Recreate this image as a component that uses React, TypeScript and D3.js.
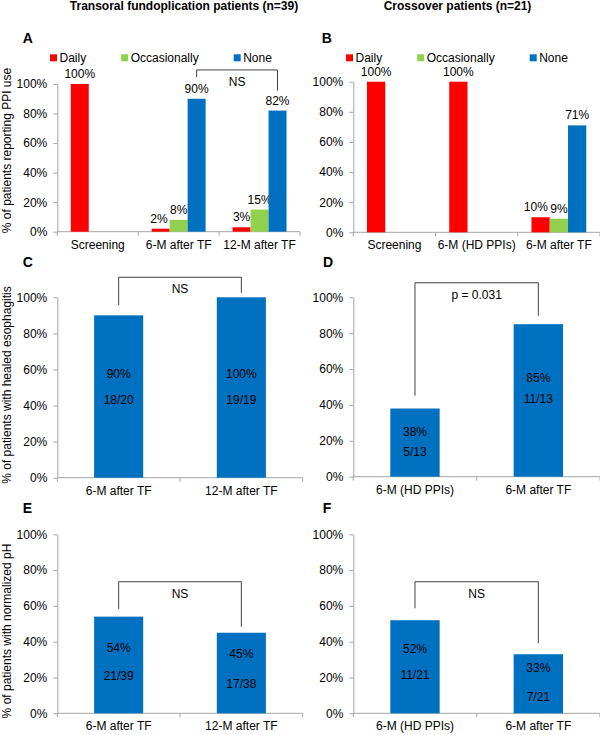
import * as d3 from "d3";
import { useEffect, useRef } from "react";

const W = 600;
const H = 735;
const FONT = "'Liberation Sans', Arial, Helvetica, sans-serif";
const AXIS = "#a6a6a6";
const INK = "#000";

// PPI use (panels A and B)
const ppiSeries = ["Daily", "Occasionally", "None"];
const ppiColors = ["#ff0000", "#92d050", "#0070c0"];
const tfCategories = ["Screening", "6-M after TF", "12-M after TF"];
const tfDaily = [100, 2, 3];
const tfOccasionally = [0, 8, 15];
const tfNone = [0, 90, 82];
const coCategories = ["Screening", "6-M (HD PPIs)", "6-M after TF"];
const coDaily = [100, 100, 10];
const coOccasionally = [0, 0, 9];
const coNone = [0, 0, 71];

// healed esophagitis (C, D)
const healTfCategories = ["6-M after TF", "12-M after TF"];
const healTfValues = [90, 100];
const healTfCounts = ["18/20", "19/19"];
const healCoCategories = ["6-M (HD PPIs)", "6-M after TF"];
const healCoValues = [38, 85];
const healCoCounts = ["5/13", "11/13"];

// normalized pH (E, F)
const phTfValues = [54, 45];
const phTfCounts = ["21/39", "17/38"];
const phCoValues = [52, 33];
const phCoCounts = ["11/21", "7/21"];

const yTicks = [0, 20, 40, 60, 80, 100];

type Frame = { left: number; right: number; top: number; bottom: number };
type Bracket = { label: string; top: number; leftFoot: number; rightFoot: number };
type Sel = d3.Selection<SVGSVGElement, unknown, null, undefined>;

// annotation levels, in % units of each panel's y scale
const bracketA: Bracket = { label: "NS", top: 109.5, leftFoot: 104.7, rightFoot: 95.5 };
const bracketC: Bracket = { label: "NS", top: 111.1, leftFoot: 95.7, rightFoot: 102.5 };
const bracketD: Bracket = { label: "p = 0.031", top: 108.1, leftFoot: 45.2, rightFoot: 89.7 };
const bracketE: Bracket = { label: "NS", top: 73.5, leftFoot: 58.3, rightFoot: 48.4 };
const bracketF: Bracket = { label: "NS", top: 73.5, leftFoot: 58.7, rightFoot: 39.1 };

// where the in-bar labels sit (% units)
const pctAtC = [57.5, 57.5];
const cntAtC = [43.1, 43.1];
const pctAtD = [25.1, 54.9];
const cntAtD = [14.0, 43.1];
const pctAtE = [36.7, 33.2];
const cntAtE = [20.8, 16.2];
const pctAtF = [35.9, 25.1];
const cntAtF = [21.3, 9.3];

const frameA: Frame = { left: 57.3, right: 300, top: 84, bottom: 231.7 };
const frameB: Frame = { left: 353.3, right: 600, top: 81.7, bottom: 232.3 };
const frameC: Frame = { left: 57.3, right: 302.7, top: 297.3, bottom: 477.7 };
const frameD: Frame = { left: 353.3, right: 600, top: 297.3, bottom: 476.7 };
const frameE: Frame = { left: 57.3, right: 302.7, top: 534.3, bottom: 713.3 };
const frameF: Frame = { left: 353.3, right: 600, top: 534.3, bottom: 713.3 };

function txt(svg: Sel, x: number, y: number, s: string, anchor = "middle", size = 12, weight = 400) {
  return svg
    .append("text")
    .attr("x", x)
    .attr("y", y)
    .attr("text-anchor", anchor)
    .attr("font-family", FONT)
    .attr("font-size", size)
    .attr("font-weight", weight)
    .attr("fill", INK)
    .text(s);
}

function drawAxes(svg: Sel, f: Frame, x: d3.ScaleBand<string>, y: d3.ScaleLinear<number, number>) {
  svg
    .append("g")
    .attr("transform", `translate(${f.left},0)`)
    .call(
      d3
        .axisLeft(y)
        .tickValues(yTicks)
        .tickSize(4)
        .tickSizeOuter(0)
        .tickPadding(6)
        .tickFormat((d) => `${d}%`)
    )
    .call((g) => g.selectAll("path,line").attr("stroke", AXIS))
    .call((g) =>
      g.selectAll("text").attr("fill", INK).attr("font-size", 12).attr("font-family", FONT)
    );

  const y0 = y(0);
  svg
    .append("line")
    .attr("x1", f.left)
    .attr("x2", f.right)
    .attr("y1", y0)
    .attr("y2", y0)
    .attr("stroke", AXIS);

  const edges = [...x.domain().map((c) => x(c) ?? 0), x.range()[1]];
  svg
    .append("g")
    .selectAll("line")
    .data(edges)
    .enter()
    .append("line")
    .attr("x1", (d) => d)
    .attr("x2", (d) => d)
    .attr("y1", y0)
    .attr("y2", y0 + 4)
    .attr("stroke", AXIS);

  x.domain().forEach((c) => {
    txt(svg, (x(c) ?? 0) + x.bandwidth() / 2, y0 + 17, c);
  });
}

function drawBracket(svg: Sel, x1: number, x2: number, y: d3.ScaleLinear<number, number>, b: Bracket) {
  svg
    .append("path")
    .attr("d", `M${x1},${y(b.leftFoot)}V${y(b.top)}H${x2}V${y(b.rightFoot)}`)
    .attr("fill", "none")
    .attr("stroke", "#404040")
    .attr("stroke-width", 1);
  txt(svg, (x1 + x2) / 2, y(b.top) + 16, b.label);
}

function yLabel(svg: Sel, cy: number, s: string) {
  svg
    .append("text")
    .attr("transform", `translate(10.5,${cy}) rotate(-90)`)
    .attr("text-anchor", "middle")
    .attr("font-family", FONT)
    .attr("font-size", 12)
    .attr("fill", INK)
    .text(s);
}

function drawPpi(svg: Sel, f: Frame, cats: string[], series: number[][], bracket: Bracket | null) {
  const x = d3.scaleBand<string>().domain(cats).range([f.left, f.right]).padding(0);
  const y = d3.scaleLinear().domain([0, 100]).range([f.bottom, f.top]);
  const bw = x.bandwidth();
  const xs = d3
    .scaleBand<string>()
    .domain(ppiSeries)
    .range([bw / 6, (bw * 5) / 6])
    .padding(0);

  drawAxes(svg, f, x, y);

  const labels: { c: string; node: SVGTextElement }[] = [];
  series.forEach((vals, si) => {
    const name = ppiSeries[si];
    const pts = cats.map((c, i) => ({ c, v: vals[i] })).filter((d) => d.v > 0);
    svg
      .append("g")
      .selectAll("rect")
      .data(pts)
      .enter()
      .append("rect")
      .attr("x", (d) => (x(d.c) ?? 0) + (xs(name) ?? 0))
      .attr("y", (d) => y(d.v))
      .attr("width", xs.bandwidth())
      .attr("height", (d) => y(0) - y(d.v))
      .attr("fill", ppiColors[si]);
    pts.forEach((d) => {
      const t = txt(svg, (x(d.c) ?? 0) + (xs(name) ?? 0) + xs.bandwidth() / 2, y(d.v) - 6, `${d.v}%`);
      labels.push({ c: d.c, node: t.node() as SVGTextElement });
    });
  });

  // nudge touching labels apart within a category
  cats.forEach((c) => {
    const ls = labels
      .filter((l) => l.c === c)
      .sort((a, b) => a.node.getBBox().x - b.node.getBBox().x);
    for (let i = ls.length - 1; i > 0; i--) {
      const a = ls[i - 1].node.getBBox();
      const b = ls[i].node.getBBox();
      const overlap = a.x + a.width + 2 - b.x;
      if (overlap > 0 && Math.abs(a.y - b.y) < a.height) {
        const n = ls[i - 1].node;
        n.setAttribute("x", String(+(n.getAttribute("x") ?? 0) - overlap));
      }
    }
  });

  // legend
  let lx = f.left - 7.3;
  const ly = 54.3;
  ppiSeries.forEach((s, i) => {
    svg.append("rect").attr("x", lx).attr("y", ly).attr("width", 7).attr("height", 7).attr("fill", ppiColors[i]);
    const t = txt(svg, lx + 9.5, ly + 8, s, "start");
    const len = (t.node() as SVGTextElement).getComputedTextLength();
    lx += 9.5 + len + 35;
  });

  if (bracket) {
    const cx = (c: string) => (x(c) ?? 0) + (xs("None") ?? 0) + xs.bandwidth() / 2;
    drawBracket(svg, cx(cats[1]), cx(cats[2]), y, bracket);
  }
}

function drawSingle(
  svg: Sel,
  f: Frame,
  cats: string[],
  vals: number[],
  counts: string[],
  pctAt: number[],
  cntAt: number[],
  bracket: Bracket
) {
  const x = d3.scaleBand<string>().domain(cats).range([f.left, f.right]).padding(0);
  const y = d3.scaleLinear().domain([0, 100]).range([f.bottom, f.top]);
  const bw = x.bandwidth();
  const barW = bw * 0.4;
  const cx = (c: string) => (x(c) ?? 0) + bw / 2;

  drawAxes(svg, f, x, y);

  svg
    .append("g")
    .selectAll("rect")
    .data(cats.map((c, i) => ({ c, v: vals[i] })))
    .enter()
    .append("rect")
    .attr("x", (d) => cx(d.c) - barW / 2)
    .attr("y", (d) => y(d.v))
    .attr("width", barW)
    .attr("height", (d) => y(0) - y(d.v))
    .attr("fill", "#0070c0");

  cats.forEach((c, i) => {
    txt(svg, cx(c), y(pctAt[i]) + 4, `${vals[i]}%`);
    txt(svg, cx(c), y(cntAt[i]) + 4, counts[i]);
  });

  drawBracket(svg, cx(cats[0]), cx(cats[1]), y, bracket);
}

export default function App() {
  const ref = useRef<SVGSVGElement | null>(null);

  useEffect(() => {
    document.body.style.margin = "0";
    const el = ref.current;
    if (!el) return;
    const svg = d3.select<SVGSVGElement, unknown>(el);
    svg.selectAll("*").remove();
    svg.append("rect").attr("width", W).attr("height", H).attr("fill", "#fff");

    txt(svg, 184, 10, "Transoral fundoplication patients (n=39)", "middle", 12, 700);
    txt(svg, 457.5, 10, "Crossover patients (n=21)", "middle", 12, 700);

    txt(svg, 22.7, 43, "A", "start", 14, 700);
    txt(svg, 321.7, 43, "B", "start", 14, 700);
    txt(svg, 22.7, 267.3, "C", "start", 14, 700);
    txt(svg, 323, 267.3, "D", "start", 14, 700);
    txt(svg, 22.7, 512.7, "E", "start", 14, 700);
    txt(svg, 322.7, 512.7, "F", "start", 14, 700);

    drawPpi(svg, frameA, tfCategories, [tfDaily, tfOccasionally, tfNone], bracketA);
    drawPpi(svg, frameB, coCategories, [coDaily, coOccasionally, coNone], null);

    drawSingle(svg, frameC, healTfCategories, healTfValues, healTfCounts, pctAtC, cntAtC, bracketC);
    drawSingle(svg, frameD, healCoCategories, healCoValues, healCoCounts, pctAtD, cntAtD, bracketD);
    drawSingle(svg, frameE, healTfCategories, phTfValues, phTfCounts, pctAtE, cntAtE, bracketE);
    drawSingle(svg, frameF, healCoCategories, phCoValues, phCoCounts, pctAtF, cntAtF, bracketF);

    yLabel(svg, 150.5, "% of patients reporting PPI use");
    yLabel(svg, 385, "% of patients with healed esophagitis");
    yLabel(svg, 631, "% of patients with normalized pH");
  }, []);

  return <svg ref={ref} width={W} height={H} style={{ display: "block" }} />;
}
